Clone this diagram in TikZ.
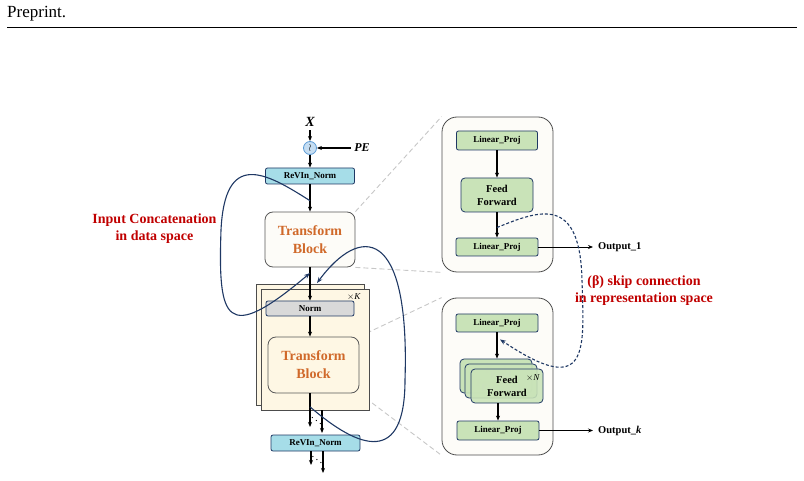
\documentclass[tikz,border=0pt]{standalone}
\usepackage{fontspec}
\setmainfont{Liberation Serif}
\usetikzlibrary{calc,positioning,arrows.meta,backgrounds}
\definecolor{navy}{HTML}{1F3864}
\definecolor{revinfill}{HTML}{A6DDE8}
\definecolor{projfill}{HTML}{C9E3B8}
\definecolor{normfill}{HTML}{D9D9D9}
\definecolor{peblue}{HTML}{5B9BD5}
\definecolor{pefill}{HTML}{C5DDF2}
\definecolor{blockorange}{HTML}{D0692A}
\definecolor{notered}{HTML}{C00000}
\definecolor{cream}{HTML}{FEF7E4}
\definecolor{paper}{HTML}{FDFCF8}
\tikzstyle{ptr}    = [draw, -{Stealth[length=5pt,width=4pt]}, line width=1.1pt]
\tikzstyle{revin}  = [rectangle, rounded corners=2pt, draw=navy, fill=revinfill, line width=0.8pt,
                      minimum width=89pt, minimum height=16pt, inner sep=0pt,
                      font=\fontsize{9}{10}\selectfont\bfseries]
\tikzstyle{normbox}= [revin, fill=normfill, minimum width=88pt, minimum height=15pt]
\tikzstyle{proj}   = [revin, fill=projfill, minimum width=82pt, minimum height=18pt]
\tikzstyle{ffn}    = [proj, rounded corners=4pt, minimum width=72pt, minimum height=34pt, align=center,
                      font=\fontsize{10.5}{13}\selectfont\bfseries]
\tikzstyle{tblock} = [rectangle, rounded corners=8pt, draw=black!65, fill=paper, line width=0.8pt,
                      minimum width=90pt, minimum height=55pt, inner sep=0pt, align=center,
                      text=blockorange, font=\fontsize{14}{18}\selectfont\bfseries]
\tikzstyle{panel}  = [rectangle, rounded corners=15pt, draw=black!70, fill=paper, line width=0.8pt,
                      minimum width=111pt, minimum height=155pt]
\tikzstyle{stack}  = [rectangle, draw=black!70, fill=cream, line width=0.9pt,
                      minimum width=108pt, minimum height=121pt]
\tikzstyle{zoomline} = [draw=black!22, dash pattern=on 5pt off 3pt, line width=0.9pt]
\tikzstyle{concat} = [draw=navy, line width=1.1pt, -{Stealth[length=6pt,width=4.5pt]}]
\tikzstyle{skip}   = [concat, dash pattern=on 3pt off 2pt]
\tikzstyle{note}   = [text=notered, align=center, font=\fontsize{14}{17}\selectfont\bfseries]
\tikzstyle{outlbl} = [anchor=west, inner sep=0pt, font=\fontsize{10.5}{12}\selectfont\bfseries]
\tikzstyle{dotsep} = [inner sep=0pt, font=\fontsize{11}{11}\selectfont]
\begin{document}
\begin{tikzpicture}[x=1pt, y=1pt]
    \useasboundingbox (0,0) rectangle (804,-481);
    \node[anchor=base west, inner sep=0pt, font=\fontsize{17}{20}\selectfont] (head) at (7,-18) {Preprint.};
    \draw[line width=0.9pt] (7,-27) -- (797,-27);

    % left column
    \node[circle, draw=peblue, fill=pefill, minimum size=13pt, inner sep=0pt, line width=0.8pt,
          font=\fontsize{10}{10}\selectfont] (pe) at (310,-148) {$\wr$};
    \node[above of=pe, node distance=26pt, font=\fontsize{14}{14}\selectfont\bfseries\itshape] (x) {X};
    \node[right of=pe, node distance=52pt, font=\fontsize{12}{12}\selectfont\bfseries\itshape] (penode) {PE};
    \node[revin, below of=pe, node distance=28pt] (revin1) {ReVIn\_Norm};
    \node[tblock, below of=revin1, node distance=63.5pt] (tb1) {Transform\\Block};
    \node[stack] (kback) at (310,-344.5) {};
    \node[stack] (kfront) at (315,-349.5) {};
    \node[normbox, below of=tb1, node distance=69pt] (norm) {Norm};
    \node[tblock, fill=cream, below of=norm, node distance=56.5pt, xshift=3.5pt, minimum width=91pt, minimum height=56pt] (tb2) {Transform\\Block};
    \node[font=\fontsize{9}{9}\selectfont, inner sep=0pt] (ktimes) at (354,-297) {$\times$\textit{K}};
    \node[revin, below of=tb2, node distance=78pt, xshift=2pt] (revin2) {ReVIn\_Norm};

    \draw[ptr] (x) -- (pe);
    \draw[ptr] (penode) -- (pe);
    \draw[ptr] (pe) -- (revin1);
    \draw[ptr] (revin1) -- (tb1.north -| revin1.south);
    \draw[ptr] (tb1.south -| norm.north) -- (norm);
    \draw[ptr] (norm) -- (tb2.north -| norm.south);

    \coordinate (a1) at (310,-427);
    \coordinate (a2) at (322,-433);
    \coordinate (a3) at (311,-465);
    \coordinate (a4) at (323,-473);
    \draw[ptr] (tb2.south -| norm.south) -- (a1);
    \draw[ptr] (kfront.south -| a2) -- (a2);
    \draw[ptr] (revin2.south -| a3) -- (a3);
    \draw[ptr] (revin2.south -| a4) -- (a4);
    \node[dotsep] (dots1) at (316.5,-418) {$\ddots$};
    \node[dotsep] (dots2) at (317,-457) {$\ddots$};

    % right panels
    \node[panel] (panel1) at (497.5,-194.5) {};
    \node[proj, minimum width=81pt, minimum height=19pt] (lp1a) at (497,-140.5) {Linear\_Proj};
    \node[ffn, below of=lp1a, node distance=54.5pt] (ff1) {Feed\\Forward};
    \node[proj, below of=ff1, node distance=52pt] (lp1b) {Linear\_Proj};
    \draw[ptr] (lp1a) -- (ff1);
    \draw[ptr] (ff1) -- (lp1b);
    \node[outlbl] (out1) at (598,-247) {Output\_1};
    \draw[ptr, line width=0.9pt, shorten >=5pt] (lp1b) -- (out1);

    \node[panel, minimum height=157pt] (panel2) at (497.5,-376.5) {};
    \node[proj] (lp2a) at (497,-323) {Linear\_Proj};
    \node[ffn, text=black!18] (ff2a) at (496,-376) {Feed\\Forward};
    \node[ffn, text=black!18, fill opacity=0.9, text opacity=1] (ff2b) at (501,-381) {Feed\\Forward};
    \node[ffn, fill opacity=0.88, text opacity=1] (ff2c) at (507,-386) {Feed\\Forward};
    \node[font=\fontsize{9}{9}\selectfont, inner sep=0pt] (ntimes) at (533,-378) {$\times$\textit{N}};
    \node[proj, minimum height=19pt] (lp2b) at (498,-430.5) {Linear\_Proj};
    \draw[ptr] (lp2a.south) -- (ff2a.north -| lp2a.south);
    \draw[ptr] (ff2c.south -| lp2b.north) -- (lp2b);
    \node[outlbl] (outk) at (598,-430.5) {Output\_\textit{k}};
    \draw[ptr, line width=0.9pt, shorten >=5pt] (lp2b) -- (outk);

    \begin{scope}[on background layer]
        \path[zoomline] (tb1.north east) -- (panel1.north west);
        \path[zoomline] (tb1.south east) -- (panel1.south west);
        \path[zoomline] (tb2.north east) -- (panel2.north west);
        \path[zoomline] (tb2.south east) -- (panel2.south west);
    \end{scope}

    % connections
    \coordinate (cin) at ($(revin1.south)!0.6!(tb1.north)$);
    \coordinate (cout) at ($(tb1.south)!0.17!(norm.north)$);
    \path[concat] (cin) .. controls (265,-172) and (225,-150) .. (221,-230)
                        .. controls (218,-320) and (225,-345) .. (cout);
    \coordinate (rin) at ($(tb2.south -| norm.south)!0.4!(a1)$);
    \coordinate (rout) at ($(cout)+(7,-10)$);
    \path[concat] (rin) .. controls (360,-450) and (405,-465) .. (405,-380)
                        .. controls (410,-225) and (360,-225) .. (rout);
    \coordinate (sin) at ($(ff1.south)!0.6!(lp1b.north)$);
    \coordinate (sout) at ($(lp2a.south)+(3,-7)$);
    \path[skip] (sin) .. controls (540,-210) and (580,-195) .. (582,-280)
                      .. controls (584,-350) and (590,-400) .. (sout);

    \node[note] (concatnote) at (154.5,-229) {Input Concatenation\\in data space};
    \node[note] (skipnote) at (644,-291) {(β) skip connection\\in representation space};
\end{tikzpicture}
\end{document}
